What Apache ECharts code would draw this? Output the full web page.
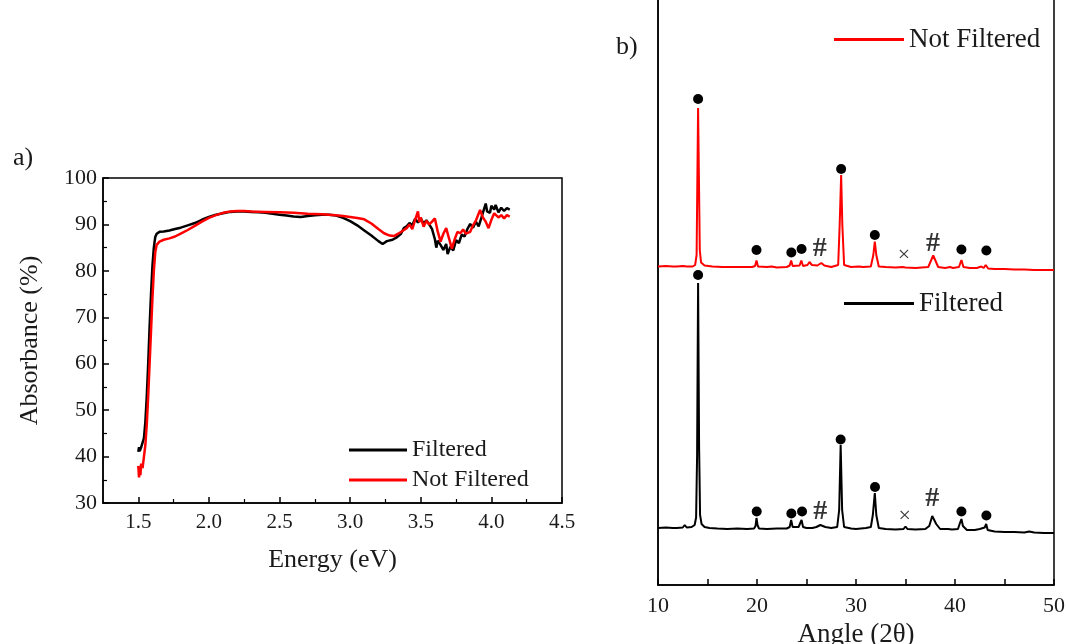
<!DOCTYPE html>
<html>
<head>
<meta charset="utf-8">
<script src="https://cdn.jsdelivr.net/npm/echarts@6/dist/echarts.min.js"></script>
<style>
  html, body { margin: 0; padding: 0; background: #fff; }
  #chart { width: 1069px; height: 644px; }
</style>
</head>
<body>
<div id="chart"></div>
<script>
// panel a) absorbance vs energy
const energyTicks = [1.5, 2.0, 2.5, 3.0, 3.5, 4.0, 4.5];
const energyMinor = [1.75, 2.25, 2.75, 3.25, 3.75, 4.25];
const absFiltered = [
  [1.500, 41.0], [1.505, 42.0], [1.510, 41.2], [1.52, 42.0], [1.53, 41.8], [1.54, 44.0],
  [1.55, 47.5], [1.56, 53], [1.57, 60], [1.58, 68], [1.59, 75], [1.60, 81], [1.61, 85],
  [1.62, 87.3], [1.63, 88.0], [1.65, 88.4], [1.68, 88.5], [1.72, 88.7], [1.76, 89.0],
  [1.80, 89.3], [1.85, 89.8], [1.90, 90.3], [1.95, 91.0], [2.00, 91.6], [2.05, 92.1],
  [2.10, 92.4], [2.15, 92.7], [2.20, 92.8], [2.25, 92.8], [2.30, 92.7], [2.35, 92.6],
  [2.40, 92.5], [2.45, 92.3], [2.50, 92.1], [2.55, 91.9], [2.60, 91.7], [2.65, 91.6],
  [2.70, 91.8], [2.75, 92.0], [2.80, 92.1], [2.85, 92.1], [2.90, 91.9], [2.95, 91.4],
  [3.00, 90.7], [3.05, 89.8], [3.10, 88.7], [3.15, 87.6], [3.20, 86.4], [3.23, 85.8],
  [3.26, 86.4], [3.30, 86.7], [3.33, 87.2], [3.36, 88.0], [3.38, 89.2], [3.40, 89.6],
  [3.42, 90.3], [3.44, 89.8], [3.46, 91.2], [3.48, 90.4], [3.50, 91.3], [3.52, 90.2],
  [3.54, 90.9], [3.56, 90.0], [3.58, 89.0], [3.60, 86.8], [3.61, 85.0], [3.62, 86.5],
  [3.64, 85.6], [3.66, 84.5], [3.68, 85.8], [3.69, 83.6], [3.71, 85.2], [3.73, 84.4],
  [3.75, 86.6], [3.77, 86.0], [3.79, 87.8], [3.81, 87.4], [3.83, 89.0], [3.85, 90.1],
  [3.87, 89.3], [3.89, 90.6], [3.91, 89.6], [3.93, 91.5], [3.95, 93.5], [3.96, 94.5],
  [3.97, 92.8], [3.99, 92.5], [4.00, 94.0], [4.02, 93.2], [4.03, 94.2], [4.05, 92.6],
  [4.07, 93.6], [4.09, 92.9], [4.11, 93.5], [4.13, 93.2]
];
const absNotFiltered = [
  [1.500, 38.0], [1.505, 35.5], [1.51, 37.5], [1.515, 36.0], [1.52, 38.5], [1.53, 37.5],
  [1.54, 40.0], [1.55, 42.5], [1.56, 47], [1.57, 53], [1.58, 60], [1.59, 67], [1.60, 74],
  [1.61, 80], [1.62, 84], [1.63, 85.6], [1.65, 86.3], [1.68, 86.7], [1.72, 87.0],
  [1.76, 87.4], [1.80, 88.0], [1.85, 88.8], [1.90, 89.7], [1.95, 90.6], [2.00, 91.4],
  [2.05, 92.0], [2.10, 92.5], [2.15, 92.8], [2.20, 92.9], [2.25, 92.9], [2.30, 92.8],
  [2.40, 92.7], [2.50, 92.6], [2.60, 92.5], [2.70, 92.3], [2.80, 92.2], [2.90, 92.0],
  [2.95, 91.8], [3.00, 91.6], [3.05, 91.4], [3.10, 91.1], [3.15, 90.2], [3.20, 89.0],
  [3.24, 88.1], [3.28, 87.6], [3.31, 87.5], [3.34, 88.0], [3.37, 88.6], [3.40, 89.2],
  [3.42, 90.0], [3.44, 89.0], [3.46, 91.0], [3.48, 92.8], [3.49, 90.5], [3.50, 91.5],
  [3.52, 89.5], [3.54, 90.8], [3.56, 90.0], [3.58, 90.6], [3.60, 91.3], [3.62, 88.5],
  [3.64, 86.3], [3.66, 88.0], [3.68, 89.2], [3.70, 87.0], [3.72, 84.8], [3.74, 86.8],
  [3.76, 88.4], [3.78, 88.1], [3.80, 88.9], [3.82, 88.0], [3.85, 88.4], [3.87, 89.8],
  [3.89, 90.8], [3.92, 93.1], [3.94, 91.5], [3.96, 90.6], [3.98, 89.2], [4.00, 91.0],
  [4.02, 92.4], [4.03, 92.8], [4.05, 91.5], [4.07, 92.0], [4.09, 91.3], [4.11, 92.0],
  [4.13, 91.7]
];

// panel b) XRD, intensity in arbitrary units (curves offset)
const xrdFiltered = [
  [10, 114], [10.8, 115], [11.5, 114], [11.7, 118], [11.9, 114], [12.5, 115], [12.7, 120],
  [12.9, 115], [13.4, 116], [13.7, 120], [13.85, 135], [13.95, 260], [14.05, 604],
  [14.15, 280], [14.25, 140], [14.4, 122], [14.7, 116], [15.2, 114], [16, 113], [17, 112],
  [18, 113], [19, 112], [19.7, 113], [19.85, 118], [19.95, 134], [20.05, 120], [20.2, 113],
  [21, 112], [22, 113], [23, 113], [23.3, 116], [23.45, 130], [23.6, 116], [24.2, 116],
  [24.5, 130], [24.65, 116], [25, 114], [25.6, 114], [26, 116], [26.4, 120], [26.6, 121],
  [26.9, 116], [27.5, 114], [28.1, 116], [28.3, 150], [28.45, 280], [28.6, 150], [28.8, 116],
  [29.5, 113], [30, 112], [30.5, 113], [31, 114], [31.5, 116], [31.7, 140], [31.9, 184],
  [32.05, 140], [32.3, 114], [33, 112], [34, 111], [34.8, 112], [35, 117], [35.2, 112],
  [36, 111], [37, 112], [37.4, 118], [37.7, 138], [37.85, 140], [38.1, 122], [38.5, 112],
  [39.3, 112], [39.5, 115], [39.7, 111], [40.3, 112], [40.5, 124], [40.65, 132], [40.8, 118],
  [41.2, 110], [42, 110], [42.5, 112], [42.7, 110], [43, 115], [43.15, 122], [43.3, 110],
  [44, 107], [45, 106], [46, 106], [47, 105], [47.5, 107], [48, 105], [49, 104], [50, 104]
];
const xrdNotFiltered = [
  [10, 637], [10.8, 638], [11.5, 637], [11.7, 641], [11.9, 637], [12.5, 638], [12.7, 642],
  [12.9, 637], [13.5, 637], [13.75, 640], [13.9, 660], [13.97, 800], [14.05, 954],
  [14.13, 820], [14.22, 670], [14.35, 645], [14.7, 639], [15.5, 637], [16.5, 636],
  [17.5, 636], [18.5, 636], [19.5, 636], [19.8, 638], [19.95, 649], [20.1, 637], [21, 636],
  [21.5, 637], [22, 635], [23, 636], [23.3, 639], [23.45, 649], [23.6, 638], [24.3, 639],
  [24.48, 649], [24.65, 638], [25.1, 640], [25.3, 646], [25.55, 640], [26.1, 639],
  [26.5, 644], [26.8, 639], [27.5, 636], [28.2, 640], [28.35, 720], [28.5, 820],
  [28.62, 720], [28.8, 640], [29.5, 636], [30.3, 637], [30.5, 640], [30.7, 636],
  [31.5, 637], [31.75, 660], [31.9, 687], [32.05, 660], [32.3, 637], [33, 636], [34, 635],
  [34.7, 636], [34.85, 640], [35, 635], [36, 634], [37.3, 636], [37.6, 650], [37.8, 659],
  [38.0, 650], [38.3, 636], [39, 634], [39.5, 636], [39.8, 634], [40.4, 636], [40.65, 650],
  [40.85, 636], [41.5, 634], [42.2, 634], [42.66, 637], [42.9, 634], [43.1, 640],
  [43.17, 643], [43.35, 633], [44, 632], [45, 632], [46, 631], [47, 631], [48, 630],
  [49, 630], [50, 630]
];
// phase markers
const dotsFiltered = [[14.05, 620], [19.97, 147], [23.47, 143], [24.55, 147], [28.45, 291], [31.92, 196], [40.65, 147], [43.17, 139]];
const hashFiltered = [[26.4, 146], [37.7, 172]];
const crossFiltered = [[34.92, 138]];
const dotsNotFiltered = [[14.05, 972], [19.95, 670], [23.47, 665], [24.5, 672], [28.5, 832], [31.9, 700], [40.65, 671], [43.17, 669]];
const hashNotFiltered = [[26.33, 672], [37.78, 682]];
const crossNotFiltered = [[34.85, 660]];

const serif = 'Liberation Serif';
const txt = '#1a1a1a';

const markSeries = (data, ch, size, weight, idx) => ({
  type: 'scatter',
  xAxisIndex: idx, yAxisIndex: idx,
  data: data,
  symbolSize: 1,
  itemStyle: { color: 'rgba(0,0,0,0)' },
  label: { show: true, position: 'inside', formatter: ch, fontFamily: serif, fontSize: size, fontWeight: weight, color: '#000' },
  silent: true,
  z: 5
});
const dotSeries = (data, idx) => ({
  type: 'scatter',
  xAxisIndex: idx, yAxisIndex: idx,
  data: data,
  symbol: 'circle',
  symbolSize: 10,
  itemStyle: { color: '#000', opacity: 1 },
  silent: true,
  z: 5
});

const option = {
  animation: false,
  title: [
    { text: 'a)', left: 8, top: 140, textStyle: { fontFamily: serif, fontSize: 26, fontWeight: 'normal', color: txt } },
    { text: 'b)', left: 611, top: 29, textStyle: { fontFamily: serif, fontSize: 26, fontWeight: 'normal', color: txt } }
  ],
  legend: [
    {
      data: ['Filtered', 'Not Filtered'],
      orient: 'vertical',
      left: 344, top: 433,
      itemWidth: 58, itemHeight: 3, itemGap: 6,
      icon: 'rect',
      textStyle: { fontFamily: serif, fontSize: 24, color: txt }
    },
    {
      data: ['Not Filtered'],
      left: 829, top: 21,
      itemWidth: 70, itemHeight: 3,
      icon: 'rect',
      textStyle: { fontFamily: serif, fontSize: 27, color: txt }
    },
    {
      data: ['Filtered'],
      left: 839, top: 285,
      itemWidth: 70, itemHeight: 3,
      icon: 'rect',
      textStyle: { fontFamily: serif, fontSize: 27, color: txt }
    }
  ],
  grid: [
    { left: 103, top: 178, width: 459, height: 325, outerBoundsMode: 'none', show: true, borderColor: '#000', borderWidth: 1.5, backgroundColor: 'transparent' },
    { left: 658, top: -10, width: 396, height: 595, outerBoundsMode: 'none', show: true, borderColor: '#000', borderWidth: 1.5, backgroundColor: 'transparent' },
    { left: 103, top: 178, width: 459, height: 325, outerBoundsMode: 'none' }
  ],
  xAxis: [
    {
      type: 'value', gridIndex: 0, min: 1.25, max: 4.5,
      name: 'Energy (eV)', nameLocation: 'middle', nameGap: 44,
      nameTextStyle: { fontFamily: serif, fontSize: 26, color: txt },
      axisLine: { lineStyle: { color: '#000', width: 1.5 } },
      axisTick: { inside: true, length: 6, customValues: energyTicks, lineStyle: { color: '#000', width: 1.5 } },
      axisLabel: { customValues: energyTicks, fontFamily: serif, fontSize: 21, color: txt, margin: 9,
        formatter: v => v.toFixed(1) },
      splitLine: { show: false }
    },
    {
      type: 'value', gridIndex: 1, min: 10, max: 50, interval: 10,
      name: 'Angle (2θ)', nameLocation: 'middle', nameGap: 33,
      nameTextStyle: { fontFamily: serif, fontSize: 27, color: txt },
      axisLine: { lineStyle: { color: '#000', width: 1.5 } },
      axisTick: { inside: true, length: 6, lineStyle: { color: '#000', width: 1.5 } },
      minorTick: { show: true, splitNumber: 2, length: 6, lineStyle: { color: '#000', width: 1.5 } },
      axisLabel: { fontFamily: serif, fontSize: 22, color: txt, margin: 10 },
      splitLine: { show: false }
    },
    {
      type: 'value', gridIndex: 2, min: 1.25, max: 4.5,
      axisLine: { show: false },
      axisTick: { inside: true, length: 4, customValues: energyMinor, lineStyle: { color: '#000', width: 1.2 } },
      axisLabel: { show: false },
      splitLine: { show: false }
    }
  ],
  yAxis: [
    {
      type: 'value', gridIndex: 0, min: 30, max: 100, interval: 10,
      name: 'Absorbance (%)', nameLocation: 'middle', nameGap: 60, nameRotate: 90,
      nameTextStyle: { fontFamily: serif, fontSize: 26, color: txt },
      axisLine: { show: true, lineStyle: { color: '#000', width: 1.5 } },
      axisTick: { show: true, inside: true, length: 6, lineStyle: { color: '#000', width: 1.5 } },
      minorTick: { show: true, splitNumber: 2, length: 4, lineStyle: { color: '#000', width: 1.2 } },
      axisLabel: { fontFamily: serif, fontSize: 22, color: txt, margin: 6 },
      splitLine: { show: false }
    },
    {
      type: 'value', gridIndex: 1, min: 0, max: 1190,
      axisLine: { show: true, lineStyle: { color: '#000', width: 1.5 } },
      axisTick: { show: false },
      axisLabel: { show: false },
      splitLine: { show: false }
    },
    { type: 'value', gridIndex: 2, min: 30, max: 100, show: false }
  ],
  series: [
    {
      name: 'Filtered', type: 'line', xAxisIndex: 0, yAxisIndex: 0,
      data: absFiltered, symbol: 'none', lineStyle: { color: '#000', width: 2.5 }, itemStyle: { color: '#000' }, z: 3
    },
    {
      name: 'Not Filtered', type: 'line', xAxisIndex: 0, yAxisIndex: 0,
      data: absNotFiltered, symbol: 'none', lineStyle: { color: '#ff0000', width: 2.5 }, itemStyle: { color: '#ff0000' }, z: 4
    },
    {
      name: 'Filtered', type: 'line', xAxisIndex: 1, yAxisIndex: 1,
      data: xrdFiltered, symbol: 'none', lineStyle: { color: '#000', width: 2 }, itemStyle: { color: '#000' }
    },
    {
      name: 'Not Filtered', type: 'line', xAxisIndex: 1, yAxisIndex: 1,
      data: xrdNotFiltered, symbol: 'none', lineStyle: { color: '#ff0000', width: 2 }, itemStyle: { color: '#ff0000' }
    },
    dotSeries(dotsFiltered, 1),
    dotSeries(dotsNotFiltered, 1),
    markSeries(hashFiltered, '#', 28, 'bold', 1),
    markSeries(hashNotFiltered, '#', 28, 'bold', 1),
    markSeries(crossFiltered, '×', 22, 'normal', 1),
    markSeries(crossNotFiltered, '×', 22, 'normal', 1)
  ]
};

const chart = echarts.init(document.getElementById('chart'));
chart.setOption(option);
</script>
</body>
</html>
